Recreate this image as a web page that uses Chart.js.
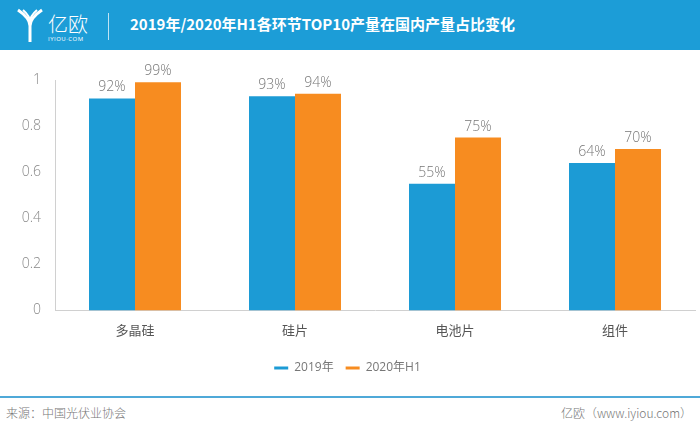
<!DOCTYPE html>
<html><head><meta charset="utf-8">
<script src="https://cdn.jsdelivr.net/npm/chart.js@4"></script>
<style>
html,body{margin:0;padding:0;width:700px;height:431px;overflow:hidden;background:#fff;font-family:"Open Sans","Noto Sans CJK SC",sans-serif;}
#hdr{position:absolute;left:0;top:0;width:700px;height:50px;background:#1c9dd7;}
#logoText{position:absolute;left:48px;top:9px;color:#fff;font-size:20px;font-family:"Noto Sans CJK SC";font-weight:300;}
#logoSub{position:absolute;left:48px;top:35px;color:#fff;font-size:6px;letter-spacing:0.5px;}
#sep{position:absolute;left:108px;top:13px;width:1px;height:27px;background:#bfe3f4;}
#title{position:absolute;left:130px;top:13px;color:#fff;font-size:15px;font-weight:bold;font-family:"Noto Sans CJK SC";}
#chartBox{position:absolute;left:0;top:50px;width:700px;height:340px;}
#line{position:absolute;left:0;top:396px;width:700px;height:2px;background:#4fa9d8;}
#src{position:absolute;left:6px;top:404px;font-size:12px;color:#777;font-family:"Noto Sans CJK SC";font-weight:300;}
#site{position:absolute;right:8px;top:404px;font-size:12px;color:#777;font-family:"Noto Sans CJK SC";font-weight:300;}
</style></head>
<body>
<div id="hdr">
<svg style="position:absolute;left:16px;top:8px" width="28" height="36" viewBox="0 0 28 36">
<path d="M2 2 Q14 10 14 18 L14 34 M26 2 Q14 10 14 18" stroke="#fff" stroke-width="3" fill="none"/>
<path d="M7 2 Q14 8 14 14 M21 2 Q14 8 14 14" stroke="#fff" stroke-width="2" fill="none"/>
</svg>
<div id="logoText">亿欧</div>
<div id="logoSub">IYIOU·COM</div>
<div id="sep"></div>
<div id="title">2019年/2020年H1各环节TOP10产量在国内产量占比变化</div>
</div>
<div id="chartBox"><canvas id="c"></canvas></div>
<div id="line"></div>
<div id="src">来源：中国光伏业协会</div>
<div id="site">亿欧（www.iyiou.com）</div>
<script>
const categories = ["多晶硅","硅片","电池片","组件"];
const series2019 = [0.92,0.93,0.55,0.64];
const series2020H1 = [0.99,0.94,0.75,0.70];
const seriesNames = ["2019年","2020年H1"];
const yTicks = [0,0.2,0.4,0.6,0.8,1];

const labelPlugin = {
  id:'vals',
  afterDatasetsDraw(chart){
    const ctx = chart.ctx;
    ctx.save();
    ctx.font = '300 14px "Open Sans", sans-serif';
    ctx.fillStyle = '#777';
    ctx.textAlign='center';
    ctx.textBaseline='bottom';
    chart.data.datasets.forEach((ds,i)=>{
      chart.getDatasetMeta(i).data.forEach((bar,j)=>{
        ctx.fillText(Math.round(ds.data[j]*100)+'%', bar.x, bar.y-4);
      });
    });
    ctx.restore();
  }
};

new Chart(document.getElementById('c'),{
  type:'bar',
  data:{labels:categories,datasets:[
    {label:seriesNames[0],data:series2019,backgroundColor:'#1c9bd5',barPercentage:1,categoryPercentage:0.575},
    {label:seriesNames[1],data:series2020H1,backgroundColor:'#f78c20',barPercentage:1,categoryPercentage:0.575}
  ]},
  options:{
    responsive:true,maintainAspectRatio:false,animation:false,
    layout:{padding:{left:0,right:5,top:30,bottom:6}},
    plugins:{
      legend:{position:'bottom',labels:{boxWidth:14,boxHeight:3,color:'#777',font:{size:12,family:'"Open Sans","Noto Sans CJK SC"'},padding:12}},
      tooltip:{enabled:false}
    },
    scales:{
      x:{grid:{display:false,drawTicks:false},border:{color:'#d0d0d0'},ticks:{color:'#555',font:{size:13,family:'"Noto Sans CJK SC"'},padding:12}},
      y:{min:0,max:1,afterBuildTicks(s){s.ticks=yTicks.map(v=>({value:v}));},
         afterFit(s){s.width=55;},
         grid:{display:false,drawTicks:false},border:{color:'#d0d0d0'},
         ticks:{color:'#888',font:{size:14,family:'"Open Sans"',weight:'300'},padding:14,callback:v=>String(v)}}
    }
  },
  plugins:[labelPlugin]
});
</script>
</body></html>
